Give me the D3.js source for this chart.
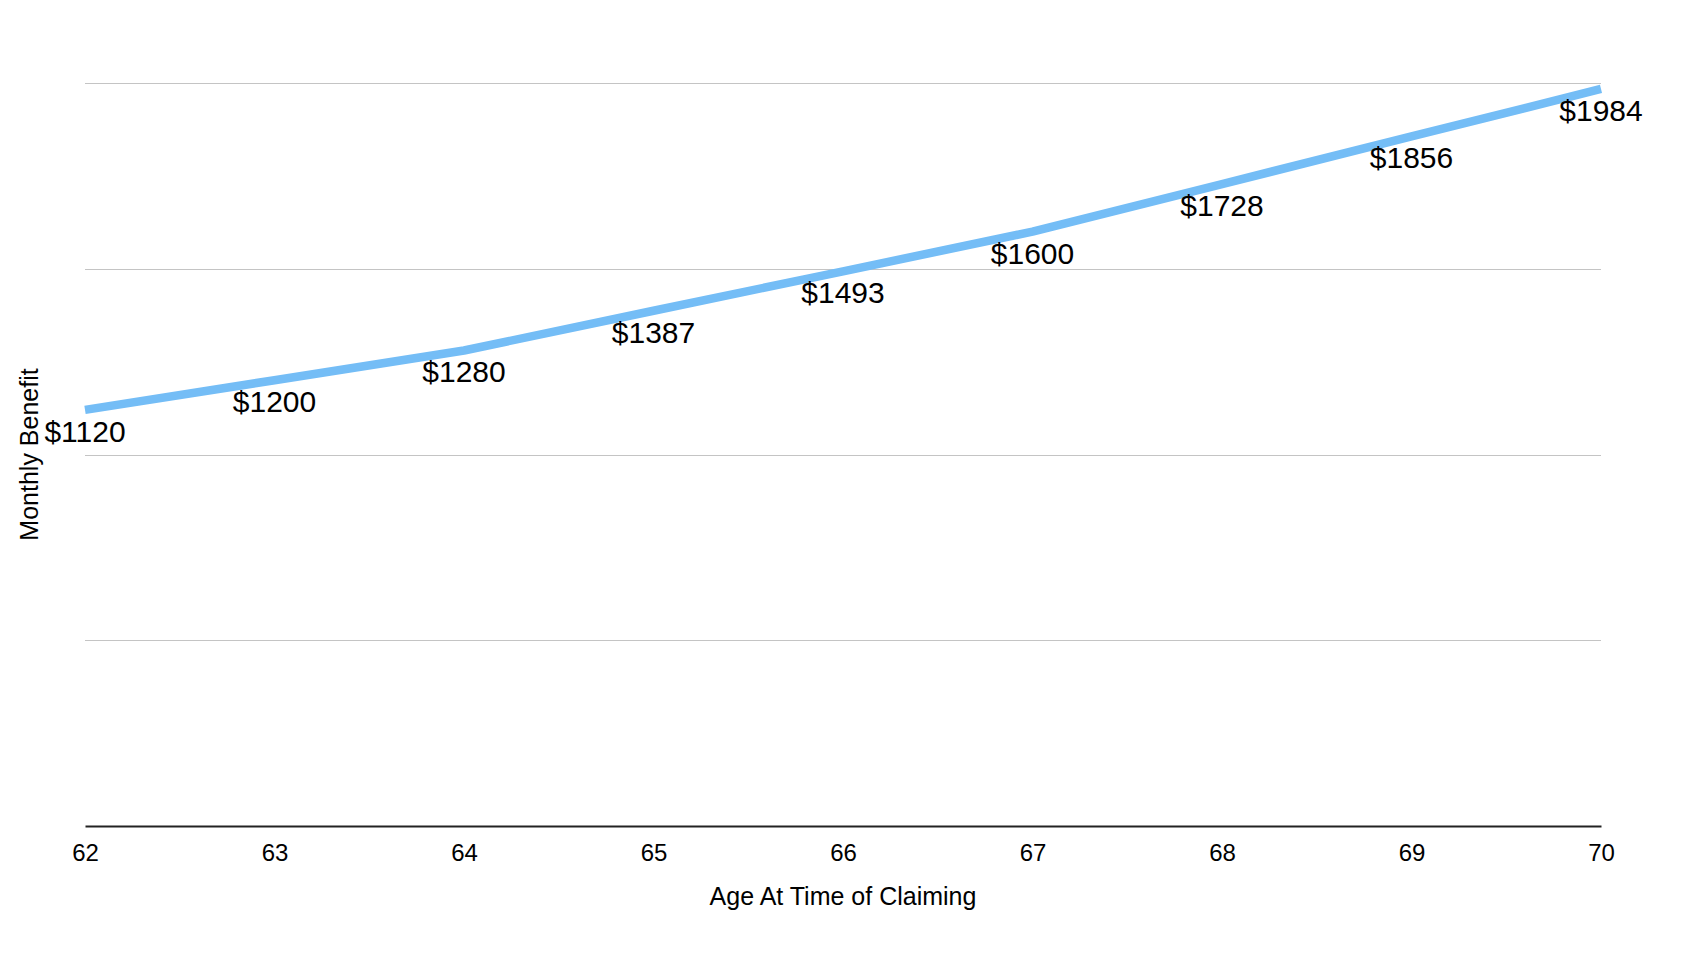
<!DOCTYPE html>
<html>
<head>
<meta charset="utf-8">
<script src="https://cdn.jsdelivr.net/npm/d3@7"></script>
<style>
  html, body { margin: 0; padding: 0; background: #fff; }
  svg { display: block; font-family: "Liberation Sans", Arial, Helvetica, sans-serif; }
</style>
</head>
<body>
<svg id="chart" width="1688" height="962"></svg>
<script>
const ages = [62, 63, 64, 65, 66, 67, 68, 69, 70];
const benefits = [1120, 1200, 1280, 1387, 1493, 1600, 1728, 1856, 1984];
const yGridValues = [0, 500, 1000, 1500, 2000];
const xTickLabels = ["62", "63", "64", "65", "66", "67", "68", "69", "70"];
const xTitle = "Age At Time of Claiming";
const yTitle = "Monthly Benefit";

const W = 1688, H = 962;
const margin = { left: 85, right: 87, top: 83, bottom: 136 };
const svg = d3.select("#chart");

const x = d3.scaleLinear().domain([62, 70]).range([margin.left, W - margin.right]);
const y = d3.scaleLinear().domain([0, 2000]).range([H - margin.bottom, margin.top]);

// gridlines
svg.append("g").selectAll("line").data(yGridValues.filter(v => v > 0)).join("line")
  .attr("x1", x(62)).attr("x2", x(70))
  .attr("y1", d => Math.round(y(d)) + 0.5).attr("y2", d => Math.round(y(d)) + 0.5)
  .attr("stroke", "#c4c4c4").attr("stroke-width", 1);

// x axis
const xAxis = d3.axisBottom(x).tickValues(ages).tickFormat((d, i) => xTickLabels[i]).tickSize(0).tickPadding(18);
const gx = svg.append("g").attr("transform", `translate(0,${y(0)})`).call(xAxis);
gx.select(".domain").attr("stroke", "#222").attr("stroke-width", 2);
gx.selectAll("text").attr("font-size", 24).attr("fill", "#000")
  .attr("font-family", "'Liberation Sans', Arial, Helvetica, sans-serif");

// line
const line = d3.line().x((d, i) => x(ages[i])).y(d => y(d));
svg.append("path").datum(benefits)
  .attr("d", line)
  .attr("fill", "none")
  .attr("stroke", "#74bdf6")
  .attr("stroke-width", 8.5)
  .attr("stroke-linejoin", "round");

// data labels
svg.append("g").selectAll("text").data(benefits).join("text")
  .attr("x", (d, i) => x(ages[i]))
  .attr("y", d => y(d) + 32)
  .attr("text-anchor", "middle")
  .attr("font-size", 30)
  .attr("fill", "#000")
  .text(d => "$" + d);

// axis titles
svg.append("text")
  .attr("x", (x(62) + x(70)) / 2).attr("y", 905)
  .attr("text-anchor", "middle").attr("font-size", 25).attr("fill", "#000")
  .text(xTitle);

svg.append("text")
  .attr("transform", `translate(38,${(y(0) + y(2000)) / 2}) rotate(-90)`)
  .attr("text-anchor", "middle").attr("font-size", 25).attr("fill", "#000")
  .text(yTitle);
</script>
</body>
</html>
